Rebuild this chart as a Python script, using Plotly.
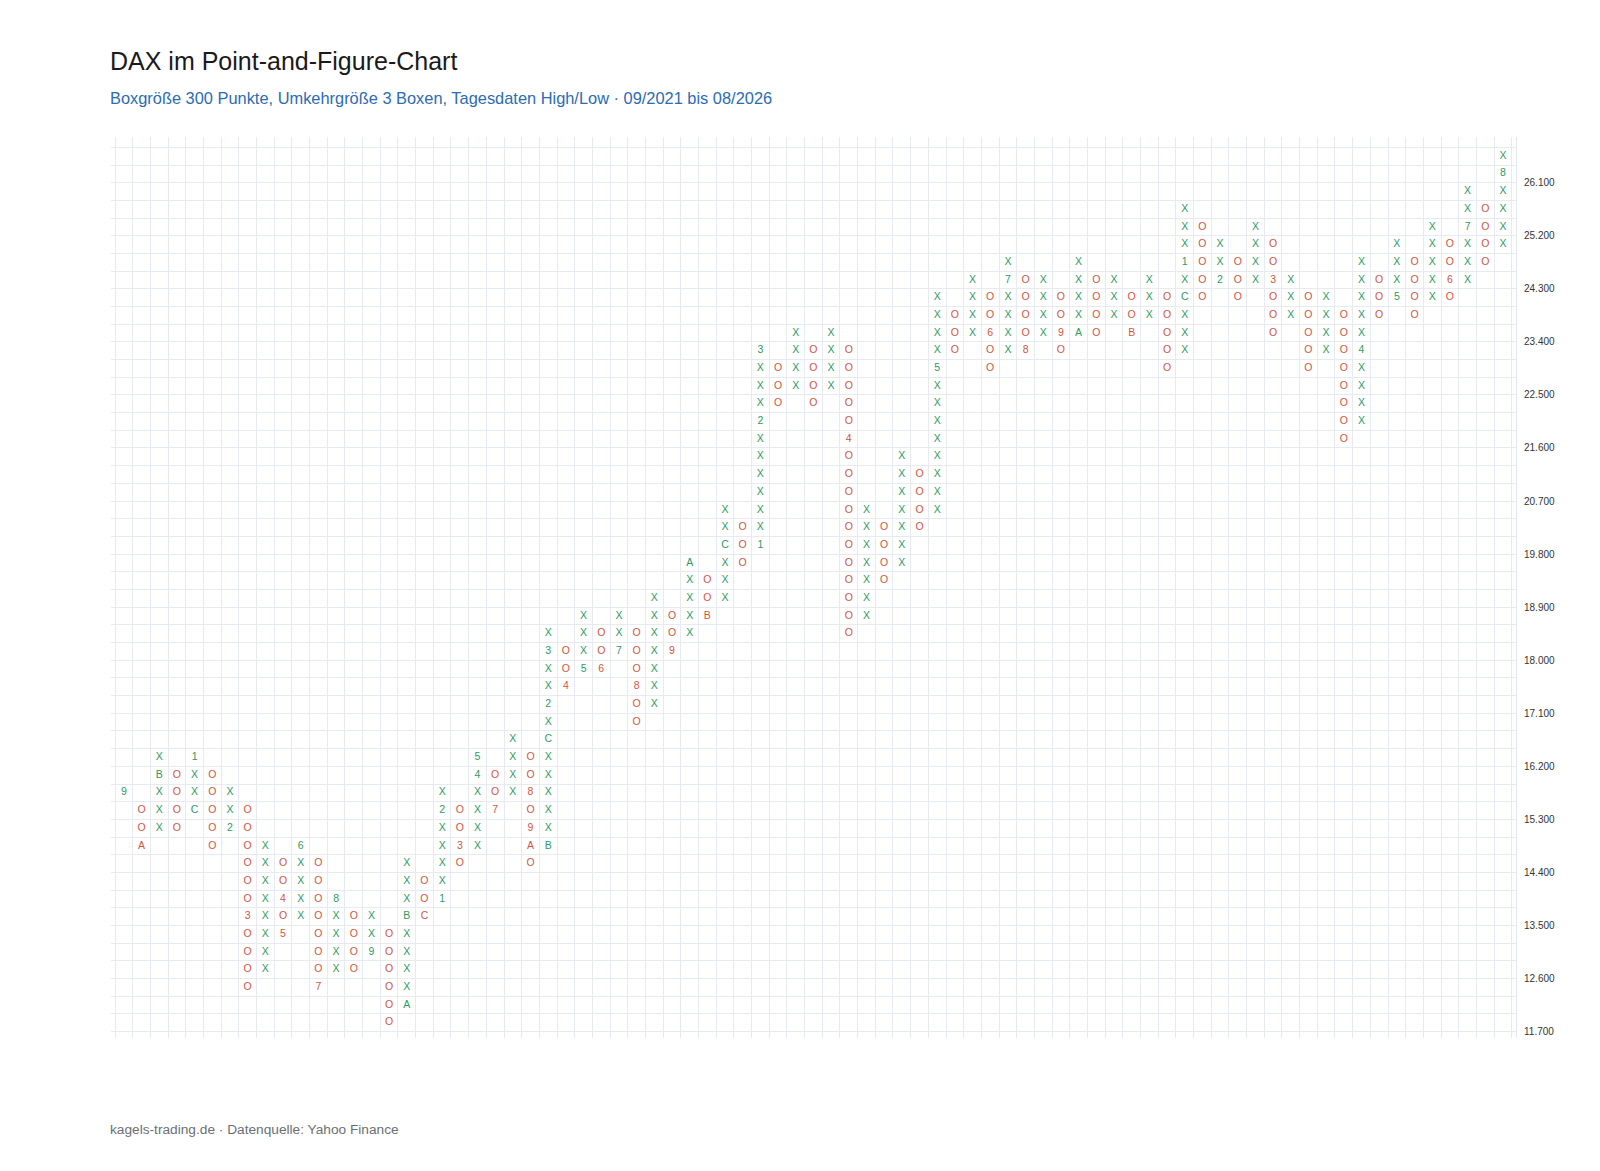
import plotly.graph_objects as go

# ---- data -------------------------------------------------------------
BOX_SIZE = 300
BASE_PRICE = 11700

# lower price of the first (bottom) box of every column
col_start = [
    15600, 14700, 15000, 15000, 15300, 14700, 15000, 12300, 12600, 13200,
    13500, 12300, 12600, 12600, 12900, 11700, 12000, 13500, 13800, 14400,
    14700, 15300, 15600, 14400, 14700, 17400, 17700, 17700, 18000, 16800,
    17100, 18000, 18300, 18600, 18900, 19500, 19800, 22200, 22500, 22200,
    22500, 18300, 18600, 19200, 19500, 20100, 20400, 23100, 23400, 22800,
    23100, 23100, 23400, 23100, 23400, 23400, 23700, 23400, 23700, 22800,
    23100, 24000, 24300, 24000, 24300, 23400, 23700, 22800, 23100, 21600,
    21900, 23700, 24000, 23700, 24000, 24000, 24300, 24600, 24900,
]

# boxes of every column from bottom to top (X / O, month codes 1-9, A-C)
col_boxes = [
    "9", "AOO", "XXXBX", "OOOO", "CXX1", "OOOOO", "2XX", "OOOO3OOOOOO",
    "XXXXXXXX", "5O4OO", "XXXX6", "7OOOOOOO", "XXXX8", "OOOO", "9XX",
    "OOOOOO", "AXXXXBXXX", "COO", "1XXXX2X", "O3OO", "XXXX45", "7OO",
    "XXXX", "OA9O8OO", "BXXXXXCX2XX3X", "4OO", "5XXX", "6OO", "7XX",
    "OO8OOO", "XXXXXXX", "9OO", "XXXXA", "BOO", "XXXCXX", "OOO",
    "1XXXXXX2XXX3", "OOO", "XXXX", "OOOO", "XXXX", "OOOOOOOOOOO4OOOOO",
    "XXXXXXX", "OOOO", "XXXXXXX", "OOOO", "XXXXXXXX5XXXX", "OOO", "XXXX",
    "OO6OO", "XXXX7X", "8OOOO", "XXXX", "O9OO", "AXXXX", "OOOO", "XXX",
    "BOO", "XXX", "OOOOO", "XXXCX1XXX", "OOOOO", "2XX", "OOO", "XXXX",
    "OOO3OO", "XXX", "OOOOO", "XXXX", "OOOOOOOO", "XXXX4XXXXX", "OOO",
    "5XXX", "OOOO", "XXXXX", "O6OO", "XXX7XX", "OOOO", "XXXX8X",
]

# column direction: X = rising, O = falling
col_type = ["X" if i % 2 == 0 else "O" for i in range(len(col_boxes))]

tick_values = [11700 + 900 * k for k in range(17)]

TITLE = "DAX im Point-and-Figure-Chart"
SUBTITLE = "Boxgröße 300 Punkte, Umkehrgröße 3 Boxen, Tagesdaten High/Low · 09/2021 bis 08/2026"
FOOTER = "kagels-trading.de · Datenquelle: Yahoo Finance"

# ---- build traces -------------------------------------------------------
GREEN = "#2e9a62"
RED = "#d4553f"
FONT = "Liberation Sans, Arial, Helvetica, sans-serif"

xs = {"X": [], "O": []}
ys = {"X": [], "O": []}
ts = {"X": [], "O": []}
for i, (start, boxes, kind) in enumerate(zip(col_start, col_boxes, col_type)):
    for j, ch in enumerate(boxes):
        xs[kind].append(i)
        ys[kind].append(start + j * BOX_SIZE + BOX_SIZE / 2)
        ts[kind].append(ch)

fig = go.Figure()
for kind, color in (("X", GREEN), ("O", RED)):
    fig.add_trace(go.Scatter(
        x=xs[kind], y=ys[kind], text=ts[kind], mode="text",
        textposition="middle center",
        textfont=dict(family=FONT, size=10.5, color=color),
        hoverinfo="skip", showlegend=False,
    ))

n_cols = len(col_boxes)
GRID = "#e7eaf0"

fig.update_layout(
    width=1592, height=1163,
    margin=dict(l=103, r=84, t=129, b=133),
    paper_bgcolor="white", plot_bgcolor="white",
    separators=",.",
    font=dict(family=FONT, color="#333333"),
    showlegend=False,
    xaxis=dict(
        range=[-0.73, n_cols - 0.26],
        tick0=-0.5, dtick=1,
        showgrid=True, gridcolor=GRID, gridwidth=1,
        showticklabels=False, ticks="", zeroline=False, showline=False,
        fixedrange=True,
    ),
    yaxis=dict(
        range=[BASE_PRICE - 108, BASE_PRICE + 50 * BOX_SIZE + 175],
        side="right",
        tickvals=tick_values, tickformat=",d",
        tickfont=dict(family=FONT, size=10, color="#333333"),
        showgrid=True, gridcolor=GRID, gridwidth=1,
        minor=dict(tick0=BASE_PRICE, dtick=BOX_SIZE, showgrid=True,
                   gridcolor=GRID, gridwidth=1),
        zeroline=False, showline=True, linecolor="#e3e7ee", linewidth=1,
        ticks="", ticklabelstandoff=5,
        fixedrange=True,
    ),
    annotations=[
        dict(text=TITLE, xref="paper", yref="paper", x=0, y=1.0844,
             xanchor="left", yanchor="middle", xshift=-3, showarrow=False,
             font=dict(family=FONT, size=25, color="#1a1a1a")),
        dict(text=SUBTITLE, xref="paper", yref="paper", x=0, y=1.0433,
             xanchor="left", yanchor="middle", xshift=-3, showarrow=False,
             font=dict(family=FONT, size=16.4, color="#2b6cb3")),
        dict(text=FOOTER, xref="paper", yref="paper", x=0, y=-0.1021,
             xanchor="left", yanchor="middle", xshift=-3, showarrow=False,
             font=dict(family=FONT, size=13.7, color="#6b6f75")),
    ],
)

fig.write_html("out.html")
